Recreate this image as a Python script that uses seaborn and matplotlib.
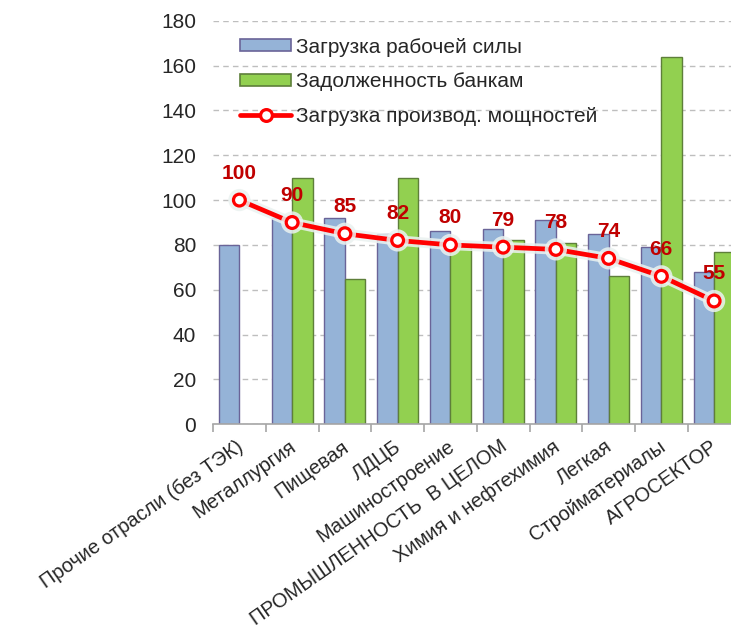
import numpy as np
import pandas as pd
import matplotlib
matplotlib.use("Agg")
import matplotlib.pyplot as plt
import matplotlib.patheffects as pe
import matplotlib.transforms as mtransforms
from matplotlib.ticker import FixedLocator
from matplotlib.patches import Patch
from matplotlib.lines import Line2D
import seaborn as sns

# Industries along the horizontal axis
categories = [
    "Прочие отрасли (без ТЭК)",
    "Металлургия",
    "Пищевая",
    "ЛДЦБ",
    "Машиностроение",
    "ПРОМЫШЛЕННОСТЬ  В ЦЕЛОМ",
    "Химия и нефтехимия",
    "Легкая",
    "Стройматериалы",
    "АГРОСЕКТОР",
]

# Series values
workforce = [80, 92, 92, 85, 86, 87, 91, 85, 79, 68]
bank_debt = [np.nan, 110, 65, 110, 80, 82, 81, 66, 164, 77]
capacity = [100, 90, 85, 82, 80, 79, 78, 74, 66, 55]

series_names = ["Загрузка рабочей силы", "Задолженность банкам", "Загрузка производ. мощностей"]
y_ticks = [0, 20, 40, 60, 80, 100, 120, 140, 160, 180]

sns.set_theme(style="white")
plt.rcParams["font.family"] = ["Liberation Sans", "DejaVu Sans"]

FS = 15
TEXT = "#262626"

bars = pd.DataFrame({
    "industry": categories * 2,
    "value": workforce + bank_debt,
    "series": [series_names[0]] * len(categories) + [series_names[1]] * len(categories),
})

fig = plt.figure(figsize=(7.31, 6.35), dpi=100)
ax = fig.add_axes([0.2914, 0.3318, 0.7086, 0.6356])

sns.barplot(
    data=bars, x="industry", y="value", hue="series", order=categories,
    hue_order=series_names[:2], palette=["#95B3D7", "#92D050"],
    width=0.78, saturation=1, errorbar=None, ax=ax, legend=False,
)
edge_cols = {0: "#6A6498", 1: "#5E7F3A"}
for k, cont in enumerate(ax.containers):
    for patch in cont:
        patch.set_edgecolor(edge_cols[k])
        patch.set_linewidth(1.0)

# Capacity utilisation line with a soft halo
sns.pointplot(
    x=categories, y=capacity, order=categories, color="#FF0000",
    markers="o", linestyles="-", errorbar=None, ax=ax,
    linewidth=3.4, markersize=8.5, markerfacecolor="white",
    markeredgecolor="#FF0000", markeredgewidth=2.3,
)
for line in ax.lines:
    line.set_zorder(5)
    line.set_path_effects([pe.Stroke(linewidth=7.5, foreground="#EAF2F0", alpha=0.85), pe.Normal()])

for i, v in enumerate(capacity):
    ax.annotate(
        f"{v}", xy=(i, v), xytext=(0, 27), textcoords="offset pixels",
        ha="center", va="center", fontsize=FS, fontweight="bold",
        color="#C00000", zorder=6,
    )

ax.set_xlim(-0.5, 9.32)
ax.set_ylim(0, 180)
ax.set_yticks(y_ticks)
ax.set_xlabel("")
ax.set_ylabel("")

ax.yaxis.grid(True, color="#BEBEBE", linestyle=(0, (4, 3)), linewidth=1)
ax.set_axisbelow(True)
for side in ["left", "right", "top"]:
    ax.spines[side].set_visible(False)
ax.spines["bottom"].set_color("#A6A6A6")
ax.spines["bottom"].set_linewidth(1.2)

ax.tick_params(axis="y", length=0, pad=12, labelsize=FS, labelcolor=TEXT)
ax.tick_params(axis="x", which="major", length=0, pad=0)
ax.xaxis.set_minor_locator(FixedLocator(np.arange(-0.5, 10, 1)))
ax.tick_params(axis="x", which="minor", length=6, color="#A6A6A6", width=1.2, bottom=True)
ax.set_xticks(range(len(categories)))
ax.set_xticklabels(categories, rotation=35, ha="right", va="baseline",
                   rotation_mode="anchor", fontsize=14.4, color=TEXT)
shift = mtransforms.ScaledTranslation(5 / 100, -25 / 100, fig.dpi_scale_trans)
for lab in ax.get_xticklabels():
    lab.set_transform(lab.get_transform() + shift)

handles = [
    Patch(facecolor="#95B3D7", edgecolor=edge_cols[0], linewidth=1.2),
    Patch(facecolor="#92D050", edgecolor=edge_cols[1], linewidth=1.2),
    Line2D([0], [0], color="#FF0000", linewidth=3.4, marker="o", markersize=8.5,
           markerfacecolor="white", markeredgecolor="#FF0000", markeredgewidth=2.3),
]
leg = fig.legend(
    handles, series_names, loc="upper left", bbox_to_anchor=(0.3285, 0.9406),
    frameon=False, fontsize=FS, handlelength=2.45, handleheight=0.5,
    handletextpad=0.25, labelspacing=0.74, borderpad=0, borderaxespad=0,
)
for t in leg.get_texts():
    t.set_color(TEXT)

fig.savefig("out.png", dpi=100)
